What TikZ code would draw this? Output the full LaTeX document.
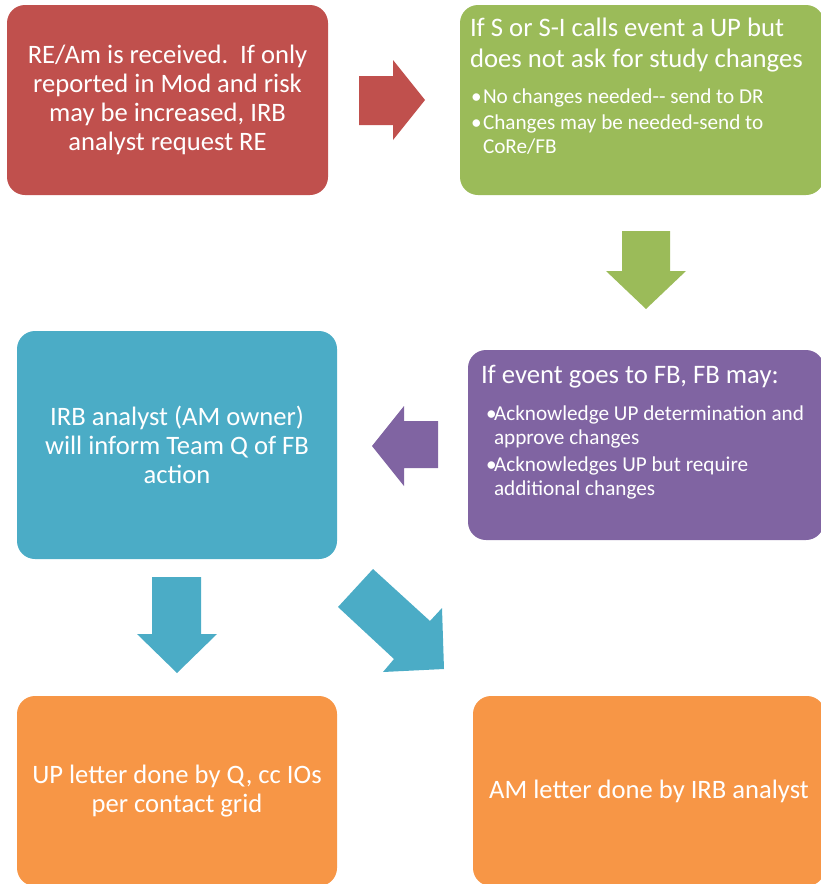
\documentclass[tikz,border=0pt]{standalone}
\usepackage{fontspec}
\setmainfont{Carlito}
\usetikzlibrary{positioning}

\definecolor{upred}{HTML}{C0504D}
\definecolor{upgreen}{HTML}{9BBB59}
\definecolor{uppurple}{HTML}{8064A2}
\definecolor{upblue}{HTML}{4BACC6}
\definecolor{uporange}{HTML}{F79646}

% one bullet of a list, continuation lines hang under the text
\newcommand\bulletline[2][9pt]{\par\hangindent=#1\hangafter=1\noindent\makebox[#1][l]{\textbullet}#2}

\tikzset{
    box/.style={rounded corners=18pt, inner sep=0pt, text=white, align=flush center,
        font=\fontsize{26.6}{29}\selectfont},
    boxtext/.style={anchor=north west, inner sep=0pt, text=white, align=flush left}
}

\begin{document}
\begin{tikzpicture}[x=1pt,y=-1pt]
\useasboundingbox (0,0) rectangle (821,884);

% boxes
\node[box, fill=upred, minimum width=321pt, minimum height=190pt, text width=310pt]
    (received) at (167.5,100) {RE/Am is received.\ \ If only\\ reported in Mod and risk\\ may be increased, IRB\\ analyst request RE};
\node[box, fill=upgreen, minimum width=364pt, minimum height=190pt] (sicall) at (642,100) {};
\node[box, fill=uppurple, minimum width=356pt, minimum height=190pt] (fbmay) at (646,445) {};
\node[box, fill=upblue, minimum width=320pt, minimum height=228pt, text width=310pt]
    (inform) at (177,445) {IRB analyst (AM owner)\\ will inform Team Q of FB\\ action};
\node[box, fill=uporange, minimum width=320pt, minimum height=190pt, text width=310pt]
    (upletter) at (177,791) {UP letter done by Q, cc IOs\\ per contact grid};
\node[box, fill=uporange, minimum width=352pt, minimum height=190pt, text width=345pt]
    (amletter) at (649,791) {AM letter done by IRB analyst};

% texts of the two list boxes
\node[boxtext, text width=350pt] (sicalltext) at ([xshift=10pt,yshift=-13pt]sicall.north west)
    {{\fontsize{26.7}{31}\selectfont If S or S-I calls event a UP but\newline does not ask for study changes\par}
     {\fontsize{21.2}{24}\selectfont\leftskip=1pt
      \vspace{12pt}
      \bulletline[12pt]{No changes needed{-}{-} send to DR}\par\vspace{2pt}
      \bulletline[12pt]{Changes may be needed-send to\newline CoRe/FB}\par}};
\node[boxtext, text width=340pt] (fbmaytext) at ([xshift=13pt,yshift=-15pt]fbmay.north west)
    {{\fontsize{26.7}{31}\selectfont If event goes to FB, FB may:\par}
     {\fontsize{21.2}{24}\selectfont\leftskip=5pt
      \vspace{13pt}
      \bulletline[8pt]{Acknowledge UP determination and\newline approve changes}\par\vspace{3pt}
      \bulletline[8pt]{Acknowledges UP but require\newline additional changes}\par}};

% block arrows
\fill[upred] (359,76) -- (393,76) -- (393,60) -- (425,100) -- (393,140) -- (393,125) -- (359,125) -- cycle;
\fill[upgreen] (622,231) -- (670,231) -- (670,271) -- (686,271) -- (646,309) -- (606,271) -- (622,271) -- cycle;
\fill[uppurple] (438,421) -- (404,421) -- (404,406) -- (372,446) -- (404,486) -- (404,468) -- (438,468) -- cycle;
\fill[upblue] (152,577) -- (201,577) -- (201,634) -- (217,634) -- (177,673) -- (137,634) -- (152,634) -- cycle;
\fill[upblue] (373,569) -- (430,621) -- (442,608) -- (444,669) -- (383,672) -- (394,659) -- (338,607) -- cycle;

\end{tikzpicture}
\end{document}
